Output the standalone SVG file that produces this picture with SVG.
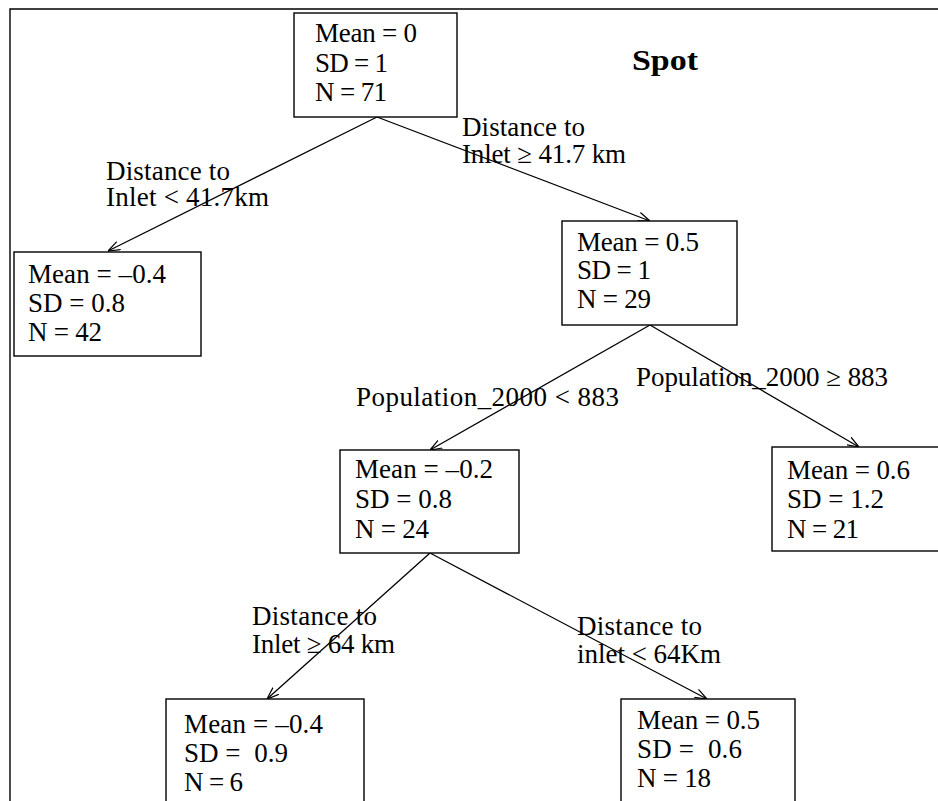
<svg xmlns="http://www.w3.org/2000/svg" width="938" height="801" viewBox="0 0 938 801">
  <style>
    text { font-family: "Liberation Serif", "Times New Roman", serif; font-size: 27px; fill: #000; }
    .title { font-weight: bold; font-size: 30px; }
    .box { fill: #fff; stroke: #000; stroke-width: 1.4; }
    .edge { fill: none; stroke: #000; stroke-width: 1.3; marker-end: url(#arrow); }
    .frame { fill: none; stroke: #000; stroke-width: 1.4; }
  </style>
  <defs>
    <marker id="arrow" markerUnits="userSpaceOnUse" viewBox="0 0 12 10" refX="12" refY="5" markerWidth="12" markerHeight="10" orient="auto">
      <path d="M0,0.5 L12,5 L0,9.5" fill="none" stroke="#000" stroke-width="1.2"/>
    </marker>
  </defs>
  <rect width="938" height="801" fill="#fff"/>

  <!-- outer frame (left and top edges) -->
  <path class="frame" d="M10,801 V9 H938"/>

  <text class="title" x="632" y="70" textLength="66" lengthAdjust="spacingAndGlyphs">Spot</text>

  <!-- connectors -->
  <g id="connectors">
    <line class="edge" x1="377" y1="117" x2="108" y2="251"/>
    <line class="edge" x1="377" y1="117" x2="650" y2="221"/>
    <line class="edge" x1="650" y1="325" x2="430" y2="450"/>
    <line class="edge" x1="650" y1="325" x2="859" y2="447"/>
    <line class="edge" x1="430" y1="553" x2="267" y2="699"/>
    <line class="edge" x1="430" y1="553" x2="707" y2="699"/>
  </g>

  <!-- split labels -->
  <g id="labels">
    <text x="106" y="180" textLength="124" lengthAdjust="spacing">Distance to</text>
    <text x="106" y="206" textLength="163" lengthAdjust="spacing">Inlet &lt; 41.7km</text>
    <text x="462" y="136" textLength="123" lengthAdjust="spacing">Distance to</text>
    <text x="462" y="163" textLength="164" lengthAdjust="spacing">Inlet ≥ 41.7 km</text>
    <text x="356" y="406" textLength="263" lengthAdjust="spacing">Population_2000 &lt; 883</text>
    <text x="636" y="386" textLength="252" lengthAdjust="spacing">Population_2000 ≥ 883</text>
    <text x="252" y="625" textLength="125" lengthAdjust="spacing">Distance to</text>
    <text x="252" y="653" textLength="143" lengthAdjust="spacing">Inlet ≥ 64 km</text>
    <text x="577" y="635" textLength="125" lengthAdjust="spacing">Distance to</text>
    <text x="577" y="663" textLength="144" lengthAdjust="spacing">inlet &lt; 64Km</text>
  </g>

  <g id="node-root">
    <rect class="box" x="294" y="13" width="163" height="104"/>
    <text x="315" y="42" textLength="102" lengthAdjust="spacing">Mean = 0</text>
    <text x="315" y="72" textLength="73" lengthAdjust="spacing">SD = 1</text>
    <text x="315" y="101" textLength="72" lengthAdjust="spacing">N = 71</text>
  </g>

  <g id="node-near-inlet">
    <rect class="box" x="14" y="252" width="187" height="104"/>
    <text x="28" y="283" textLength="138" lengthAdjust="spacing">Mean = –0.4</text>
    <text x="28" y="312" textLength="97" lengthAdjust="spacing">SD = 0.8</text>
    <text x="28" y="341" textLength="74" lengthAdjust="spacing">N = 42</text>
  </g>

  <g id="node-far-inlet">
    <rect class="box" x="562" y="221" width="175" height="104"/>
    <text x="577" y="251" textLength="122" lengthAdjust="spacing">Mean = 0.5</text>
    <text x="577" y="279" textLength="74" lengthAdjust="spacing">SD = 1</text>
    <text x="577" y="308" textLength="74" lengthAdjust="spacing">N = 29</text>
  </g>

  <g id="node-low-pop">
    <rect class="box" x="340" y="450" width="179" height="103"/>
    <text x="355" y="478" textLength="138" lengthAdjust="spacing">Mean = –0.2</text>
    <text x="355" y="508" textLength="97" lengthAdjust="spacing">SD = 0.8</text>
    <text x="355" y="538" textLength="74" lengthAdjust="spacing">N = 24</text>
  </g>

  <g id="node-high-pop">
    <rect class="box" x="772" y="447" width="180" height="104"/>
    <text x="787" y="479" textLength="123" lengthAdjust="spacing">Mean = 0.6</text>
    <text x="787" y="508" textLength="97" lengthAdjust="spacing">SD = 1.2</text>
    <text x="787" y="538" textLength="72" lengthAdjust="spacing">N = 21</text>
  </g>

  <g id="node-far-64">
    <rect class="box" x="166" y="699" width="198" height="120"/>
    <text x="184" y="733" textLength="139" lengthAdjust="spacing">Mean = –0.4</text>
    <text x="184" y="762" textLength="104" lengthAdjust="spacing" xml:space="preserve">SD =  0.9</text>
    <text x="184" y="791" textLength="59" lengthAdjust="spacing">N = 6</text>
  </g>

  <g id="node-near-64">
    <rect class="box" x="621" y="699" width="174" height="120"/>
    <text x="637" y="729" textLength="123" lengthAdjust="spacing">Mean = 0.5</text>
    <text x="637" y="758" textLength="105" lengthAdjust="spacing" xml:space="preserve">SD =  0.6</text>
    <text x="637" y="787" textLength="74" lengthAdjust="spacing">N = 18</text>
  </g>
</svg>
